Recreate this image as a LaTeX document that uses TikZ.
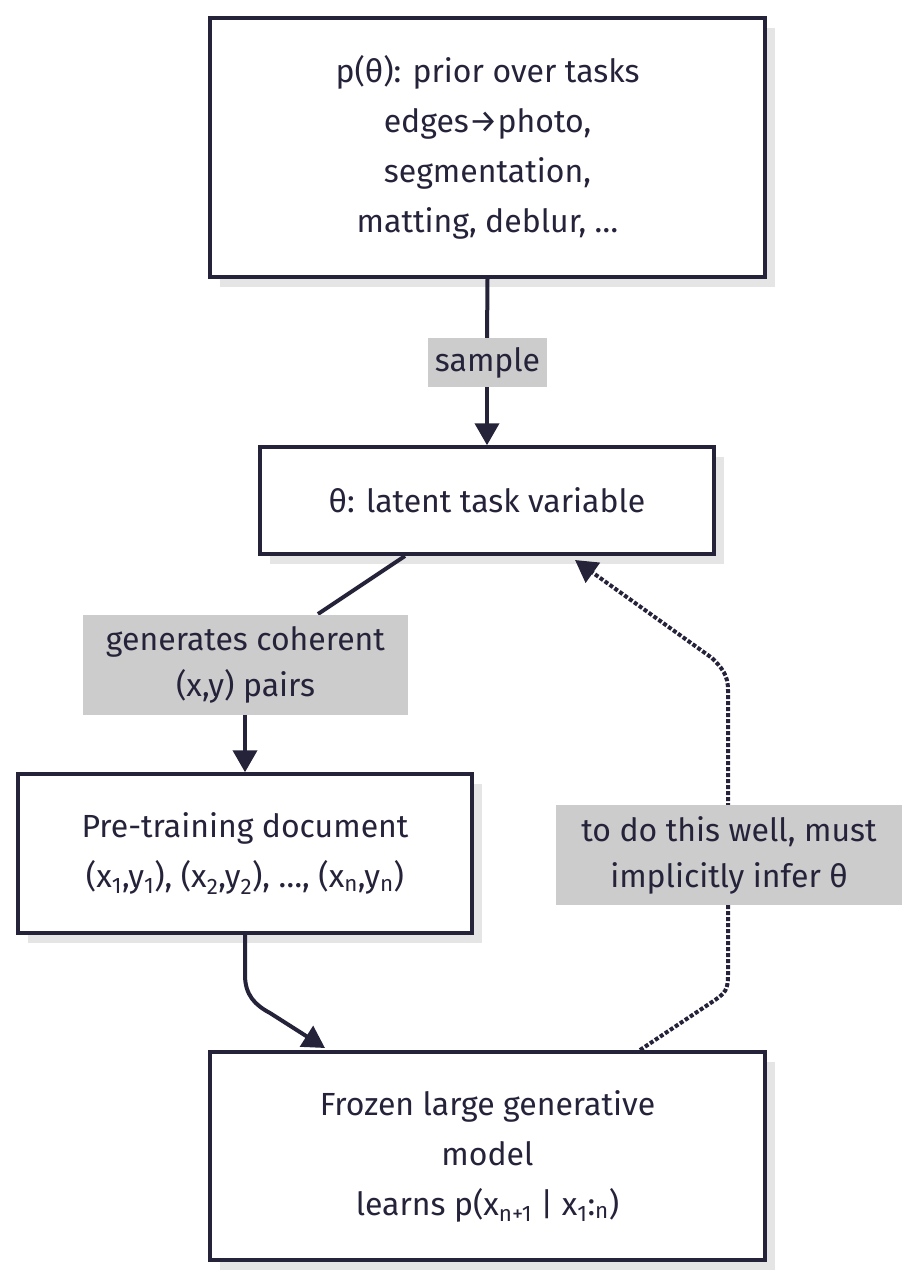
\documentclass[tikz,border=0pt]{standalone}
\usepackage{fontspec}
\setmainfont{Fira Sans}
\usetikzlibrary{positioning,arrows.meta}
\definecolor{ink}{HTML}{25233A}
\definecolor{lab}{HTML}{CCCCCC}
\tikzset{
  box/.style={draw=ink,line width=3.5pt,fill=white,align=center,text=ink,font=\fontsize{32}{50}\selectfont},
  shade/.style={fill=black!10},
  tag/.style={fill=lab,text=ink,align=center,font=\fontsize{32}{46}\selectfont,inner sep=4pt},
  link/.style={draw=ink,line width=4pt,-{Triangle[length=22pt,width=24pt]}},
}
\begin{document}
\begin{tikzpicture}[x=1pt,y=-1pt]
\useasboundingbox (0,0) rectangle (922,1280);
% shadows
\fill[shade] (220,28) rectangle (775,287);
\fill[shade] (270,457) rectangle (724,564);
\fill[shade] (28,784) rectangle (482,943);
\fill[shade] (220,1062) rectangle (775,1270);
% boxes
\node[box,minimum width=555,minimum height=259] (prior) at (487.5,147.5)
  {p(θ): prior over tasks\\edges→photo,\\segmentation,\\matting, deblur, …};
\node[box,minimum width=454,minimum height=107] (theta) at (487,500.5) {θ: latent task variable};
\node[box,minimum width=454,minimum height=159] (doc) at (245,853.5)
  {Pre-training document\\(x\textsubscript{1},y\textsubscript{1}), (x\textsubscript{2},y\textsubscript{2}), …, (x\textsubscript{n},y\textsubscript{n})};
\node[box,minimum width=555,minimum height=208] (model) at (487.5,1156)
  {Frozen large generative\\model\\learns p(x\textsubscript{n+1} | x\textsubscript{1}:\textsubscript{n})};
% connectors
\draw[draw=ink,line width=4pt] (prior.south) -- (487,340);
\draw[link] (487,385) -- (theta.north);
\draw[draw=ink,line width=4pt] (405,556) -- (318,614);
\draw[link] (245,715) -- (doc.north);
\draw[link] (doc.south) -- (245,975) .. controls (245,995) and (255,1005) .. (270,1013) -- (325,1048);
\draw[link,dotted] (640,1050) -- (715,1000) .. controls (725,993) and (728,990) .. (728,975)
  -- (728,690) .. controls (728,675) and (722,668) .. (712,658) -- (575,560);
% labels
\node[tag,minimum width=119,minimum height=49] (sample) at (487.5,362.5) {sample};
\node[tag,minimum width=325,minimum height=100] (gen) at (245.5,665) {generates coherent\\(x,y) pairs};
\node[tag,minimum width=346,minimum height=100] (infer) at (729,855) {to do this well, must\\implicitly infer θ};
\end{tikzpicture}
\end{document}
